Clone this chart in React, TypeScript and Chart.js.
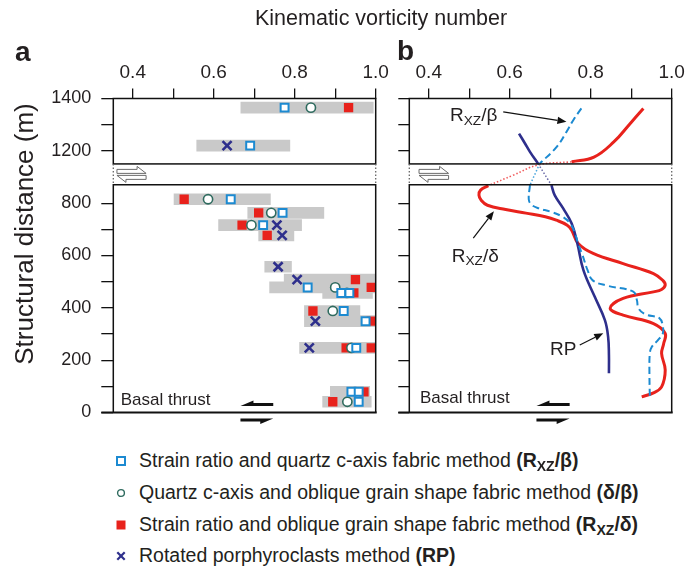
import React, { useEffect, useRef } from 'react';
import { Chart, registerables } from 'chart.js';

Chart.register(...registerables);

const FONT = '"Liberation Sans", Arial, Helvetica, sans-serif';
const INK = '#231f20';

// ---------- axes ----------
const X_MIN = 0.352;
const X_MAX = 1.0;
const xTickValues = [0.4, 0.5, 0.6, 0.7, 0.8, 0.9, 1.0];
const yTickDistances = [0, 100, 200, 300, 400, 500, 600, 700, 800, 1200, 1300, 1400];
const LOWER_TOP = 870; // top of lower section (m)
const UPPER_BOTTOM = 1150; // bottom of upper section (m)
const UPPER_TOP = 1400;
const GAP_UNITS = 80; // plotted height of the axis break

function toDisp(m: number): number {
  if (m <= LOWER_TOP) return m;
  if (m >= UPPER_BOTTOM) return m - (UPPER_BOTTOM - LOWER_TOP) + GAP_UNITS;
  return LOWER_TOP + ((m - LOWER_TOP) * GAP_UNITS) / (UPPER_BOTTOM - LOWER_TOP);
}
function fromDisp(d: number): number {
  const gapTop = LOWER_TOP + GAP_UNITS;
  if (d <= LOWER_TOP) return d;
  if (d >= gapTop) return d + (UPPER_BOTTOM - LOWER_TOP) - GAP_UNITS;
  return LOWER_TOP + ((d - LOWER_TOP) * (UPPER_BOTTOM - LOWER_TOP)) / GAP_UNITS;
}
const Y_MAX = toDisp(UPPER_TOP);

// ---------- colours ----------
const C_BLUE = '#1c8ad1';
const C_TEAL = '#2f6b5f';
const C_RED = '#e8221c';
const C_NAVY = '#2e2f8c';
const C_GRAY = '#c9c9c9';

// ---------- panel a : ranges and estimates ----------
const rangeDist = [1365, 1220, 815, 763, 716, 677, 557, 508, 478, 457, 388, 349, 247, 79, 41];
const rangeMin = [0.667, 0.558, 0.502, 0.684, 0.612, 0.711, 0.726, 0.774, 0.738, 0.869, 0.824, 0.824, 0.812, 0.888, 0.869];
const rangeMax = [0.994, 0.788, 0.74, 0.872, 0.817, 0.798, 0.792, 1.0, 1.0, 0.992, 0.961, 1.0, 1.0, 0.985, 0.989];

const rxzBetaDist = [1365, 1220, 815, 763, 716, 478, 457, 457, 388, 349, 247, 79, 79, 41];
const rxzBetaVal = [0.775, 0.69, 0.642, 0.77, 0.722, 0.832, 0.915, 0.935, 0.921, 0.975, 0.952, 0.94, 0.958, 0.958];

const deltaBetaDist = [1365, 815, 763, 716, 478, 457, 388, 247, 41];
const deltaBetaVal = [0.84, 0.586, 0.742, 0.693, 0.9, 0.929, 0.894, 0.94, 0.93];

const rxzDeltaDist = [1365, 815, 763, 716, 677, 508, 478, 457, 388, 349, 247, 247, 79, 41];
const rxzDeltaVal = [0.933, 0.527, 0.711, 0.67, 0.732, 0.95, 0.989, 0.946, 0.845, 0.989, 0.927, 0.989, 0.971, 0.894];

const rpDist = [1220, 716, 677, 557, 508, 349, 247];
const rpVal = [0.633, 0.756, 0.769, 0.759, 0.806, 0.851, 0.836];

// ---------- panel b : smoothed profiles ----------
const cBetaTopDist = [1362, 1320, 1272, 1215, 1151];
const cBetaTopVal = [0.777, 0.758, 0.74, 0.716, 0.674];
const cBetaGapDist = [1151, 869];
const cBetaGapVal = [0.674, 0.65];
const cBetaBotDist = [869, 815, 795, 780, 768, 750, 725, 690, 646, 600, 545, 505, 485, 462, 430, 398, 375, 360, 330, 302, 275, 251, 226, 150, 60];
const cBetaBotVal = [0.65, 0.647, 0.653, 0.672, 0.7, 0.728, 0.748, 0.76, 0.769, 0.78, 0.792, 0.805, 0.84, 0.905, 0.914, 0.918, 0.935, 0.97, 0.978, 0.978, 0.965, 0.951, 0.946, 0.945, 0.946];

const cRpTopDist = [1266, 1230, 1196, 1151];
const cRpTopVal = [0.623, 0.637, 0.65, 0.67];
const cRpGapDist = [1151, 869];
const cRpGapVal = [0.67, 0.703];
const cRpBotDist = [869, 831, 780, 722, 646, 544, 442, 353, 289, 220, 150];
const cRpBotVal = [0.703, 0.711, 0.732, 0.753, 0.767, 0.782, 0.81, 0.835, 0.843, 0.845, 0.845];

const cDeltaTopDist = [1362, 1300, 1234, 1176, 1158];
const cDeltaTopVal = [0.93, 0.895, 0.857, 0.808, 0.753];
const cDeltaGapDist = [1158, 1136, 1000, 867];
const cDeltaGapVal = [0.753, 0.67, 0.609, 0.547];
const cDeltaBotDist = [867, 850, 831, 810, 792, 776, 762, 748, 735, 716, 697, 646, 608, 569, 531, 505, 487, 470, 461, 436, 398, 372, 340, 302, 262, 226, 162, 98, 75, 60];
const cDeltaBotVal = [0.547, 0.528, 0.524, 0.53, 0.545, 0.59, 0.64, 0.688, 0.715, 0.742, 0.753, 0.769, 0.806, 0.88, 0.955, 0.978, 0.984, 0.975, 0.955, 0.88, 0.848, 0.88, 0.955, 0.984, 0.98, 0.975, 0.984, 0.975, 0.955, 0.926];

// annotation arrows in panel b: [fromValue, fromDist, toValue, toDist]
const annotArrows = [
  [0.584, 1349, 0.74, 1311],
  [0.51, 666, 0.561, 769],
  [0.773, 258, 0.831, 303],
];

function pts(dist: number[], val: number[]) {
  return dist.map((m, i) => ({ x: val[i], y: toDisp(m) }));
}

// ---------- plugin: fixed plot geometry, broken frame, shear symbols, arrows ----------
const framePlugin = {
  id: 'frames',
  afterLayout(chart: any, _args: any, opts: any) {
    const { left, top, right, bottom } = opts.area;
    chart.chartArea = { left, top, right, bottom, width: right - left, height: bottom - top };
    const xs = chart.scales.x;
    const ys = chart.scales.y;
    xs.left = left;
    xs.right = right;
    xs.width = right - left;
    xs.top = 0;
    xs.bottom = top;
    xs.height = top;
    xs.configure();
    ys.left = 0;
    ys.right = left;
    ys.width = left;
    ys.top = top;
    ys.bottom = bottom;
    ys.height = bottom - top;
    ys.configure();
  },
  afterDatasetsDraw(chart: any, _args: any, opts: any) {
    const { ctx, chartArea } = chart;
    const { left, right } = chartArea;
    const xs = chart.scales.x;
    const ys = chart.scales.y;
    const yTop = ys.getPixelForValue(toDisp(UPPER_TOP));
    const yTopB = ys.getPixelForValue(toDisp(UPPER_BOTTOM));
    const yBotT = ys.getPixelForValue(toDisp(LOWER_TOP));
    const yBot = ys.getPixelForValue(0);
    ctx.save();
    ctx.strokeStyle = '#111';
    ctx.lineWidth = 1.5;
    ctx.strokeRect(left, yTop, right - left, yTopB - yTop);
    ctx.beginPath();
    ctx.moveTo(left, yBot);
    ctx.lineTo(left, yBotT);
    ctx.lineTo(right, yBotT);
    ctx.lineTo(right, yBot);
    ctx.stroke();
    ctx.lineWidth = 2.2;
    ctx.beginPath();
    ctx.moveTo(left - opts.tick, yBot);
    ctx.lineTo(right + 1, yBot);
    ctx.stroke();

    // dotted break edges
    ctx.setLineDash([1.5, 2]);
    ctx.strokeStyle = '#666';
    ctx.lineWidth = 1.3;
    ctx.beginPath();
    ctx.moveTo(left, yTopB);
    ctx.lineTo(left, yBotT);
    ctx.moveTo(right, yTopB);
    ctx.lineTo(right, yBotT);
    ctx.stroke();
    ctx.setLineDash([]);

    // hollow shear-sense symbol in the break
    const gx0 = xs.getPixelForValue(opts.gapX[0]);
    const gx1 = xs.getPixelForValue(opts.gapX[1]);
    const c = (yTopB + yBotT) / 2;
    ctx.fillStyle = '#fff';
    ctx.strokeStyle = '#6b6b6b';
    ctx.lineWidth = 1;
    ctx.beginPath();
    ctx.moveTo(gx0, c - 1);
    ctx.lineTo(gx0, c - 5);
    ctx.lineTo(gx1 - 9, c - 5);
    ctx.lineTo(gx1 - 9, c - 8);
    ctx.lineTo(gx1, c - 1);
    ctx.closePath();
    ctx.fill();
    ctx.stroke();
    ctx.beginPath();
    ctx.moveTo(gx1, c + 1);
    ctx.lineTo(gx1, c + 5);
    ctx.lineTo(gx0 + 9, c + 5);
    ctx.lineTo(gx0 + 9, c + 8);
    ctx.lineTo(gx0, c + 1);
    ctx.closePath();
    ctx.fill();
    ctx.stroke();

    // basal thrust shear arrows
    const sx0 = xs.getPixelForValue(opts.shearX[0]);
    const sx1 = xs.getPixelForValue(opts.shearX[1]);
    ctx.fillStyle = '#111';
    let y = yBot - 8;
    ctx.beginPath();
    ctx.moveTo(sx0, y + 1.6);
    ctx.lineTo(sx0 + 13, y - 4);
    ctx.lineTo(sx0 + 13, y - 1.6);
    ctx.lineTo(sx1, y - 1.6);
    ctx.lineTo(sx1, y + 1.6);
    ctx.closePath();
    ctx.fill();
    y = yBot + 7.5;
    ctx.beginPath();
    ctx.moveTo(sx1, y - 1.6);
    ctx.lineTo(sx1 - 13, y + 4);
    ctx.lineTo(sx1 - 13, y + 1.6);
    ctx.lineTo(sx0, y + 1.6);
    ctx.lineTo(sx0, y - 1.6);
    ctx.closePath();
    ctx.fill();

    // annotation arrows
    (opts.arrows || []).forEach((a: number[]) => {
      const x0 = xs.getPixelForValue(a[0]);
      const y0 = ys.getPixelForValue(toDisp(a[1]));
      const x1 = xs.getPixelForValue(a[2]);
      const y1 = ys.getPixelForValue(toDisp(a[3]));
      const ang = Math.atan2(y1 - y0, x1 - x0);
      const hl = 9;
      const hw = 3.6;
      const bx = x1 - Math.cos(ang) * hl;
      const by = y1 - Math.sin(ang) * hl;
      ctx.strokeStyle = '#111';
      ctx.lineWidth = 1.2;
      ctx.beginPath();
      ctx.moveTo(x0, y0);
      ctx.lineTo(bx, by);
      ctx.stroke();
      ctx.beginPath();
      ctx.moveTo(x1, y1);
      ctx.lineTo(bx + Math.sin(ang) * hw, by - Math.cos(ang) * hw);
      ctx.lineTo(bx - Math.sin(ang) * hw, by + Math.cos(ang) * hw);
      ctx.closePath();
      ctx.fill();
    });
    ctx.restore();
  },
};

function makeScales(showYLabels: boolean, tickLen: number) {
  return {
    x: {
      type: 'linear',
      position: 'top',
      min: X_MIN,
      max: X_MAX,
      offset: false,
      afterBuildTicks: (s: any) => {
        s.ticks = xTickValues.map((v) => ({ value: v }));
      },
      ticks: {
        autoSkip: false,
        maxRotation: 0,
        padding: 4,
        color: INK,
        font: { family: FONT, size: 19 },
        callback: (v: any) => (Math.round(Number(v) * 10) % 2 === 0 ? Number(v).toFixed(1) : ''),
      },
      grid: { offset: false, drawOnChartArea: false, drawTicks: true, tickLength: 10, color: '#111', lineWidth: 1.3 },
      border: { display: false },
    },
    y: {
      type: 'linear',
      position: 'left',
      min: 0,
      max: Y_MAX,
      offset: false,
      afterBuildTicks: (s: any) => {
        s.ticks = yTickDistances.map((m) => ({ value: toDisp(m) }));
      },
      ticks: {
        autoSkip: false,
        padding: 10,
        color: INK,
        font: { family: FONT, size: 18 },
        callback: (v: any) => {
          const m = Math.round(fromDisp(Number(v)));
          return showYLabels && m % 200 === 0 ? String(m) : '';
        },
      },
      grid: { offset: false, drawOnChartArea: false, drawTicks: true, tickLength: tickLen, color: '#111', lineWidth: 1.3 },
      border: { display: false },
    },
  };
}

function makeConfigA(): any {
  return {
    type: 'scatter',
    data: {
      datasets: [
        {
          type: 'bar',
          label: 'range',
          indexAxis: 'y',
          data: rangeDist.map((m, i) => ({ x: [rangeMin[i], rangeMax[i]], y: toDisp(m) })),
          backgroundColor: C_GRAY,
          borderWidth: 0,
          barThickness: 11,
          order: 10,
        },
        {
          label: 'RXZ/δ',
          data: pts(rxzDeltaDist, rxzDeltaVal),
          pointStyle: 'rect',
          pointRadius: 6.6,
          backgroundColor: C_RED,
          borderColor: C_RED,
          borderWidth: 0,
          order: 4,
        },
        {
          label: 'δ/β',
          data: pts(deltaBetaDist, deltaBetaVal),
          pointStyle: 'circle',
          pointRadius: 4.6,
          backgroundColor: '#fff',
          borderColor: C_TEAL,
          borderWidth: 1.6,
          order: 3,
        },
        {
          label: 'RXZ/β',
          data: pts(rxzBetaDist, rxzBetaVal),
          pointStyle: 'rect',
          pointRadius: 5.6,
          backgroundColor: '#fff',
          borderColor: C_BLUE,
          borderWidth: 2,
          order: 2,
        },
        {
          label: 'RP',
          data: pts(rpDist, rpVal),
          pointStyle: 'crossRot',
          pointRadius: 6.4,
          backgroundColor: C_NAVY,
          borderColor: C_NAVY,
          borderWidth: 2.6,
          order: 1,
        },
      ],
    },
    options: {
      responsive: false,
      animation: false,
      devicePixelRatio: 1,
      events: [],
      scales: makeScales(true, 12),
      plugins: {
        legend: { display: false },
        tooltip: { enabled: false },
        frames: {
          area: { left: 113.3, top: 98.5, right: 375.7, bottom: 412.5 },
          tick: 12,
          gapX: [0.361, 0.433],
          shearX: [0.666, 0.747],
          arrows: [],
        },
      },
    },
    plugins: [framePlugin],
  };
}

function lineDs(label: string, data: any[], color: string, width: number, dash: number[], tension = 0.4) {
  return {
    type: 'line',
    label,
    data,
    borderColor: color,
    borderWidth: width,
    borderDash: dash,
    pointRadius: 0,
    tension,
    fill: false,
  };
}

function makeConfigB(): any {
  const dot = [1.5, 2];
  return {
    type: 'line',
    data: {
      datasets: [
        lineDs('RXZ/β', pts(cBetaTopDist, cBetaTopVal), C_BLUE, 2, [7, 4]),
        lineDs('RXZ/β gap', pts(cBetaGapDist, cBetaGapVal), '#4aa6dd', 1.5, dot, 0),
        lineDs('RXZ/β ', pts(cBetaBotDist, cBetaBotVal), C_BLUE, 2, [7, 4]),
        lineDs('RP', pts(cRpTopDist, cRpTopVal), C_NAVY, 2.6, []),
        lineDs('RP gap', pts(cRpGapDist, cRpGapVal), '#6a6aa8', 1.5, dot, 0),
        lineDs('RP ', pts(cRpBotDist, cRpBotVal), C_NAVY, 2.6, []),
        lineDs('RXZ/δ', pts(cDeltaTopDist, cDeltaTopVal), C_RED, 3, []),
        lineDs('RXZ/δ gap', pts(cDeltaGapDist, cDeltaGapVal), '#f0595a', 1.6, dot),
        lineDs('RXZ/δ ', pts(cDeltaBotDist, cDeltaBotVal), C_RED, 3, []),
      ],
    },
    options: {
      responsive: false,
      animation: false,
      devicePixelRatio: 1,
      events: [],
      scales: makeScales(false, 11),
      plugins: {
        legend: { display: false },
        tooltip: { enabled: false },
        frames: {
          area: { left: 17.3, top: 98.5, right: 279.7, bottom: 412.5 },
          tick: 11,
          gapX: [0.376, 0.449],
          shearX: [0.666, 0.748],
          arrows: annotArrows,
        },
      },
    },
    plugins: [framePlugin],
  };
}

function ChartCanvas({ makeConfig, left, width, height }: any) {
  const ref = useRef<HTMLCanvasElement | null>(null);
  useEffect(() => {
    if (!ref.current) return;
    const chart = new Chart(ref.current, makeConfig());
    return () => chart.destroy();
  }, []);
  return (
    <canvas
      ref={ref}
      width={width}
      height={height}
      style={{ position: 'absolute', left, top: 0, width, height, display: 'block' }}
    />
  );
}

function Txt({ left, base, size, bold, children }: any) {
  return (
    <div
      style={{
        position: 'absolute',
        left,
        top: base - 0.8465 * size,
        fontSize: size,
        lineHeight: `${size}px`,
        fontWeight: bold ? 'bold' : 'normal',
        whiteSpace: 'nowrap',
      }}
    >
      {children}
    </div>
  );
}

function Sub({ children }: any) {
  return <span style={{ fontSize: '0.72em', position: 'relative', top: '0.28em' }}>{children}</span>;
}

function LegendMarker({ kind, cy }: any) {
  const s = 14;
  return (
    <svg width={s} height={s} style={{ position: 'absolute', left: 120.7 - s / 2, top: cy - s / 2 }}>
      {kind === 'sq' && <rect x={3} y={3} width={8} height={8} fill="#fff" stroke={C_BLUE} strokeWidth={2} />}
      {kind === 'ci' && <circle cx={7} cy={7} r={3.4} fill="#fff" stroke={C_TEAL} strokeWidth={1.4} />}
      {kind === 'rd' && <rect x={2.5} y={2.5} width={9} height={9} fill={C_RED} />}
      {kind === 'x' && (
        <g stroke={C_NAVY} strokeWidth={2.2}>
          <line x1={3.3} y1={3.3} x2={10.7} y2={10.7} />
          <line x1={10.7} y1={3.3} x2={3.3} y2={10.7} />
        </g>
      )}
    </svg>
  );
}

const legendBaselines = [468, 500, 532, 563];
const LEGEND_SIZE = 19.5;

export default function App() {
  return (
    <div
      style={{
        position: 'absolute',
        left: 0,
        top: 0,
        width: 692,
        height: 570,
        background: '#fff',
        fontFamily: FONT,
        color: INK,
        overflow: 'hidden',
      }}
    >
      <ChartCanvas makeConfig={makeConfigA} left={0} width={392} height={432} />
      <ChartCanvas makeConfig={makeConfigB} left={392} width={300} height={432} />

      <Txt left={255} base={26} size={21.5}>Kinematic vorticity number</Txt>
      <Txt left={15} base={61.7} size={28} bold>a</Txt>
      <Txt left={397} base={61} size={28} bold>b</Txt>

      <div
        style={{
          position: 'absolute',
          left: 24.3,
          top: 234,
          fontSize: 26,
          lineHeight: '26px',
          whiteSpace: 'nowrap',
          transform: 'translate(-50%, -50%) rotate(-90deg)',
        }}
      >
        Structural distance (m)
      </div>

      <Txt left={120.7} base={405} size={17}>Basal thrust</Txt>
      <Txt left={420} base={403.3} size={17}>Basal thrust</Txt>

      <Txt left={450} base={121} size={19}>
        R<Sub>XZ</Sub>/β
      </Txt>
      <Txt left={451.7} base={261.7} size={19}>
        R<Sub>XZ</Sub>/δ
      </Txt>
      <Txt left={550} base={355} size={19}>RP</Txt>

      <LegendMarker kind="sq" cy={legendBaselines[0] - 7} />
      <Txt left={139} base={legendBaselines[0]} size={LEGEND_SIZE}>
        Strain ratio and quartz c-axis fabric method{' '}
        <b>
          (R<Sub>XZ</Sub>/β)
        </b>
      </Txt>
      <LegendMarker kind="ci" cy={legendBaselines[1] - 7} />
      <Txt left={139} base={legendBaselines[1]} size={LEGEND_SIZE}>
        Quartz c-axis and oblique grain shape fabric method <b>(δ/β)</b>
      </Txt>
      <LegendMarker kind="rd" cy={legendBaselines[2] - 7} />
      <Txt left={139} base={legendBaselines[2]} size={LEGEND_SIZE}>
        Strain ratio and oblique grain shape fabric method{' '}
        <b>
          (R<Sub>XZ</Sub>/δ)
        </b>
      </Txt>
      <LegendMarker kind="x" cy={legendBaselines[3] - 7} />
      <Txt left={139} base={legendBaselines[3]} size={LEGEND_SIZE}>
        Rotated porphyroclasts method <b>(RP)</b>
      </Txt>
    </div>
  );
}
